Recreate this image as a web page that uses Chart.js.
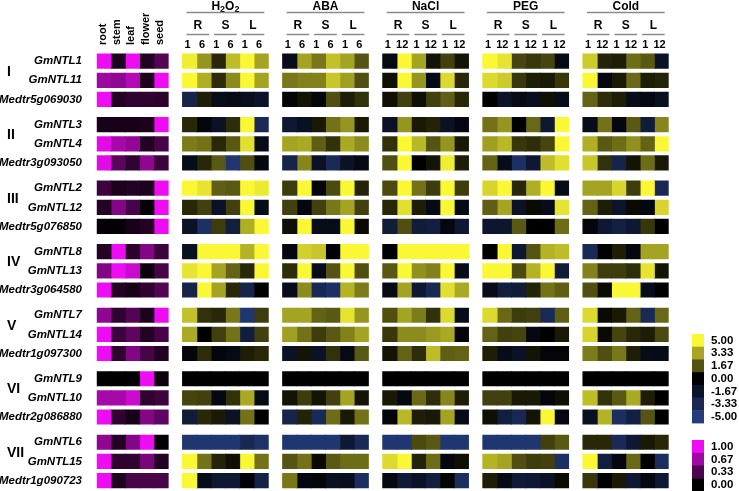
<!DOCTYPE html>
<html>
<head>
<meta charset="utf-8">
<script src="https://cdn.jsdelivr.net/npm/chart.js@4/dist/chart.umd.min.js"></script>
<style>
  html, body { margin: 0; padding: 0; background: #fff; }
</style>
</head>
<body>
<canvas id="heatChart" width="739" height="491"></canvas>
<script>
// genes, grouped three per clade
const genes = [
  "GmNTL1", "GmNTL11", "Medtr5g069030",
  "GmNTL3", "GmNTL4", "Medtr3g093050",
  "GmNTL2", "GmNTL12", "Medtr5g076850",
  "GmNTL8", "GmNTL13", "Medtr3g064580",
  "GmNTL7", "GmNTL14", "Medtr1g097300",
  "GmNTL9", "GmNTL10", "Medtr2g086880",
  "GmNTL6", "GmNTL15", "Medtr1g090723"
];
const groups = ["I", "II", "III", "IV", "V", "VI", "VII"];

const tissueLabels = ["root", "stem", "leaf", "flower", "seed"];
const tissue = [
  [1.00, 0.12, 1.00, 0.15, 0.35],
  [0.65, 0.60, 0.75, 0.12, 1.00],
  [1.00, 0.15, 0.20, 0.20, 0.18],
  [0.10, 0.10, 0.10, 0.12, 1.00],
  [0.95, 0.70, 0.62, 0.15, 0.30],
  [0.95, 0.38, 0.20, 0.60, 0.25],
  [0.25, 0.12, 0.15, 0.12, 1.00],
  [0.15, 0.55, 0.30, 0.02, 1.00],
  [0.02, 0.02, 0.10, 0.15, 1.00],
  [0.15, 1.00, 0.18, 0.55, 0.25],
  [0.55, 1.00, 0.85, 0.05, 0.30],
  [1.00, 0.15, 0.10, 0.20, 0.35],
  [0.60, 0.20, 0.35, 0.12, 1.00],
  [1.00, 0.25, 0.40, 0.15, 0.30],
  [1.00, 0.20, 0.55, 0.30, 0.15],
  [0.00, 0.00, 0.00, 1.00, 0.05],
  [0.70, 0.70, 0.85, 0.20, 0.25],
  [1.00, 0.20, 0.10, 0.55, 0.40],
  [0.60, 0.15, 0.55, 1.00, 0.02],
  [1.00, 0.20, 0.20, 0.50, 0.15],
  [1.00, 0.12, 0.30, 0.30, 0.30]
];

const organs = ["R", "S", "L"];
const treatmentNames = ["H₂O₂", "ABA", "NaCl", "PEG", "Cold"];
const timeLabels = [["1", "6"], ["1", "6"], ["1", "12"], ["1", "12"], ["1", "12"]];

// columns: R-1, R-late, S-1, S-late, L-1, L-late
const h2o2 = [
  [4.8, 3.0, 0.8, 3.8, 5, 3.3],
  [5, 3.5, 0.9, 2.8, 5, 3.3],
  [-3, 0.6, -1, -0.8, -1.2, -1.6],
  [0.8, -0.5, -1.5, 0.9, 5, -3.5],
  [2.5, 2.3, 0.8, 1.8, 4.5, -1],
  [-1, 0.8, 1.8, -4.5, 1.6, -0.6],
  [5, 4.6, 1.9, 1.8, 5, 4.7],
  [0.8, 1.3, -1.5, 1.3, 5, -1],
  [-1.5, -4, 1.2, -2.5, 3.5, 5],
  [-1.3, 5, 5, 5, 3.6, 5],
  [4.6, 5, 3.3, 2, 0.8, 5],
  [-3, 5, 3.3, 0.8, -3, 0],
  [3.9, 1, 0.8, 2.4, -4.5, 1.2],
  [3.4, 0, 1.3, 2.3, -2.5, 1.3],
  [-0.5, 0.9, -0.5, -0.8, 0.6, 0.8],
  [0, 0, 0, 0, 0, 0],
  [1.4, 1.3, -0.7, 1, 3.4, -0.8],
  [-2.3, 0.8, 0.5, -1.5, 2.3, 0],
  [-4.5, -4.5, -4.5, -4.5, -3.3, -4.2],
  [5, 2.3, 0.7, 0.3, 5, 2.3],
  [5, -1, -2, -2, -0.2, -2.8]
];
const aba = [
  [-1, 3.3, 2.4, 3.9, 3.3, 1.7],
  [2.4, 2.6, 2.6, 4, 3.2, 1.6],
  [-0.3, 0.4, -0.4, 1.6, 0.6, 1],
  [-2, -1.3, 0.5, 2.3, 3, 0.5],
  [3.3, 3.4, 1.9, 1, 3.4, 2.8],
  [-3, 2.7, -1.5, -3.5, -1.5, -0.8],
  [1.2, 5, -0.5, 1.5, 5, 0.7],
  [1.3, -0.6, 1.3, 2.4, 3.3, 1.3],
  [0.3, 5, -1, -1, 5, 0.2],
  [-0.6, 4.2, 4, -0.2, 5, 5],
  [0.9, 5, -1, 1.7, 5, 1.6],
  [-1, 2.8, -3.3, -4, 3.6, 2.5],
  [3.3, 3.3, 2, 1.8, 4.6, 3],
  [3.2, 2.3, 1.2, 1.8, 2.6, 3.3],
  [-1.5, 0.4, -1.5, 1, -0.8, 1.8],
  [0, 0, 0, 0, 0, 0],
  [0.4, 1.2, 0.4, 1.3, 3.3, 0.4],
  [-3, 0.7, -3.5, 2.2, 0.5, 2.3],
  [-4.5, -4.5, -4.5, -4.5, -2, -3.5],
  [1.7, 2.3, 0.2, 1.8, 2.2, 2.2],
  [2.4, -0.6, -0.5, -1.3, -1.2, -3.8]
];
const nacl = [
  [-0.8, 5, 3.3, 0.4, 1.3, 0.4],
  [0.3, 5, 3, -0.8, 4.4, 0.8],
  [0.3, 1.3, 0.3, 1.3, 1.9, 0.8],
  [-1.5, 3, 0.5, 0.7, -1.5, -0.6],
  [1, 5, 3.7, 1.7, 3, 0.5],
  [1.6, 5, 0, 0.4, 4.8, 0.6],
  [1.5, 5, 2.3, 1.2, 5, 1.2],
  [0.8, 4.5, 0.6, -0.8, 5, -0.8],
  [-2.3, 1.6, -2.3, -2.6, -0.6, -2],
  [0, 5, 5, 5, 5, 5],
  [1.8, 5, 2.9, 2.6, 5, -1],
  [-0.8, 3.3, -2, -3.3, 4.5, 3.4],
  [1.6, 3.3, 2.5, 1, 4.4, -1],
  [1.1, 2.8, 2.8, 3.1, 3.4, -0.5],
  [0.4, 2, 0.9, 3.8, 1.9, 2],
  [0, 0, 0, 0, 0, 0],
  [0.5, -0.7, 2.1, 0.9, 2.7, 0.6],
  [-0.4, 3.7, 0.6, 0.5, 3.3, -0.8],
  [-4.5, -4.5, 1.5, 1.8, -4.5, -4.5],
  [4.4, 5, 0.7, 2.2, -0.6, 0.3],
  [-0.7, -2.2, -1.5, -2.5, 0.1, -3.8]
];
const peg = [
  [5, 4.6, 1.4, 1.1, 1.4, -0.8],
  [4.4, 4.1, 1.1, 0.6, 0.5, 1.1],
  [0, -1.5, -0.8, -1.2, 0.3, -1],
  [2.3, 3, 0, 2.1, -2, 5],
  [3.2, 3.7, 1.1, 0.9, 1.4, 5],
  [2, -1, -4, -2, 3.8, 4.5],
  [4.3, 5, 0.8, 3.5, 5, -0.8],
  [1.9, 3.3, -1.5, 0.2, -1, 4.6],
  [-1.8, -1.8, 1.8, 0, 0, 2.2],
  [0, 5, -2, 1.7, 3.6, 3.8],
  [5, 5, 1.5, 3.6, 5, -2.3],
  [-1, -2.5, -2.3, 0.7, 2.3, 1.9],
  [4.4, 2.1, 1.2, 1.3, -3.5, 1.9],
  [2, 1.3, 1.4, -0.7, -0.1, 0.5],
  [0.6, -1, -1.5, 0.4, -0.4, 0.1],
  [0, 0, 0, 0, 0, 0],
  [1.3, 1.3, 0.5, 0.5, -0.5, 0.3],
  [0.3, -2.5, -3.3, 0.4, 5, -0.7],
  [-4.5, -4.5, -4.5, -4.5, 1.3, 1.8],
  [3.6, 3.3, 1.6, 1.2, 1.3, -4],
  [0.6, -0.8, -2.2, -2, -1.5, 0.2]
];
const cold = [
  [4.1, 0.7, 0.6, 2.2, 1.8, -1.5],
  [5, -0.7, 0.5, 2.1, 0.6, 0.7],
  [2, 0.9, 0.6, -1, -0.7, -1.3],
  [-1, 2.3, -0.6, 1.8, -2.3, 2.7],
  [3.5, 1.8, 2.2, 2.9, 2, 5],
  [4, 1, -3, 0.4, 2.2, 0.5],
  [3.3, 3.3, 4.3, 1.2, 5, -3.3],
  [2, 0.6, -1.7, 0.2, -0.6, 4.3],
  [-0.5, -2, -2.7, -2, 1.1, 0],
  [-3.5, 0, 0.6, -0.6, 3.3, 3.3],
  [2.6, 1.2, 1.2, 0.9, 4.6, 0.4],
  [1.6, 0.2, 5, 5, -1, 0],
  [4.4, 0.2, 0.5, 2, -3.5, 2.1],
  [4.3, 0.2, 1.4, 0.8, 0.6, 1.5],
  [2.5, 1.6, 2.4, 0.6, -1, -0.9],
  [0, 0, 0, 0, 0, 0],
  [3.8, 1, 1.8, 3.4, 0.6, 0],
  [-1.3, 3.6, -3.8, -2.7, 1.7, 0],
  [0.8, 0.8, -3.5, -2, 0.5, 0.8],
  [5, -2.5, -0.6, 2.1, 0, -3.8],
  [1.1, 0, 0.5, -2, -0.7, -2]
];
const treatments = [h2o2, aba, nacl, peg, cold];

const stressTicks = ["5.00", "3.33", "1.67", "0.00", "-1.67", "-3.33", "-5.00"];
const tissueTicks = ["1.00", "0.67", "0.33", "0.00"];

// colour scales
function stressColor(v) {
  const t = Math.max(-1, Math.min(1, v / 5));
  const c = t >= 0 ? [250, 248, 52] : [36, 60, 124];
  const a = Math.abs(t);
  return "rgb(" + Math.round(c[0] * a) + "," + Math.round(c[1] * a) + "," + Math.round(c[2] * a) + ")";
}
function tissueColor(v) {
  const a = Math.max(0, Math.min(1, v));
  return "rgb(" + Math.round(238 * a) + "," + Math.round(12 * a) + "," + Math.round(242 * a) + ")";
}

// row positions: extra space between clades
const GROUP_GAP = 0.32;
const rowPos = genes.map((g, i) => i + Math.floor(i / 3) * GROUP_GAP);
const lastRow = rowPos[rowPos.length - 1];

const FONT = '"Liberation Sans", Arial, sans-serif';
const colStart = b => 6 + 7 * b;

const datasets = [];
tissueLabels.forEach((lab, c) => {
  datasets.push({
    label: lab,
    data: genes.map((g, i) => ({ y: rowPos[i], x: [c, c + 1] })),
    backgroundColor: tissue.map(r => tissueColor(r[c]))
  });
});
treatments.forEach((vals, b) => {
  for (let k = 0; k < 6; k++) {
    const c = colStart(b) + k;
    datasets.push({
      label: treatmentNames[b] + " " + organs[Math.floor(k / 2)] + timeLabels[b][k % 2],
      data: genes.map((g, i) => ({ y: rowPos[i], x: [c, c + 1] })),
      backgroundColor: vals.map(r => stressColor(r[k]))
    });
  }
});

function drawRich(ctx, text, cx, cy, size) {
  // handles unicode subscript digits
  const parts = Array.from(text).map(ch => {
    const code = ch.charCodeAt(0);
    if (code >= 0x2080 && code <= 0x2089) return { t: String(code - 0x2080), sub: true };
    return { t: ch, sub: false };
  });
  const subSize = Math.round(size * 0.72);
  let w = 0;
  parts.forEach(p => {
    ctx.font = "bold " + (p.sub ? subSize : size) + "px " + FONT;
    p.w = ctx.measureText(p.t).width;
    w += p.w;
  });
  let x = cx - w / 2;
  ctx.textAlign = "left";
  ctx.textBaseline = "middle";
  parts.forEach(p => {
    ctx.font = "bold " + (p.sub ? subSize : size) + "px " + FONT;
    ctx.fillText(p.t, x, p.sub ? cy + size * 0.22 : cy);
    x += p.w;
  });
}

const decorPlugin = {
  id: "decor",
  afterDraw(chart) {
    const ctx = chart.ctx;
    const xs = chart.scales.x;
    const ys = chart.scales.y;
    const px = v => xs.getPixelForValue(v);
    ctx.save();
    ctx.fillStyle = "#000";

    // tissue column labels (vertical)
    ctx.font = "bold 11px " + FONT;
    tissueLabels.forEach((lab, c) => {
      ctx.save();
      ctx.translate(px(c + 0.5) - 1, 45);
      ctx.rotate(-Math.PI / 2);
      ctx.textAlign = "left";
      ctx.textBaseline = "middle";
      ctx.fillText(lab, 0, 0);
      ctx.restore();
    });

    // treatment headers
    ctx.strokeStyle = "#8a8a8a";
    ctx.lineWidth = 1.5;
    treatmentNames.forEach((name, b) => {
      const x0 = px(colStart(b));
      const x1 = px(colStart(b) + 6);
      drawRich(ctx, name, (x0 + x1) / 2, 6.5, 12);
      ctx.beginPath();
      ctx.moveTo(x0 + 4, 12.5);
      ctx.lineTo(x1 - 4, 12.5);
      ctx.stroke();
      const segW = (x1 - x0 - 8 - 10) / 3;
      organs.forEach((o, j) => {
        const a = x0 + 4 + j * (segW + 5);
        ctx.font = "bold 12px " + FONT;
        ctx.textAlign = "center";
        ctx.textBaseline = "middle";
        ctx.fillText(o, a + segW / 2, 26);
        ctx.beginPath();
        ctx.moveTo(a, 34.5);
        ctx.lineTo(a + segW, 34.5);
        ctx.stroke();
        ctx.font = "bold 11px " + FONT;
        timeLabels[b].forEach((t, m) => {
          const c = colStart(b) + 2 * j + m;
          ctx.fillText(t, px(c + 0.5) - 2, 44.5);
        });
      });
    });

    // clade numerals
    ctx.font = "bold 14px " + FONT;
    ctx.textAlign = "left";
    ctx.textBaseline = "middle";
    groups.forEach((g, k) => {
      const y = (ys.getPixelForValue(rowPos[3 * k]) + ys.getPixelForValue(rowPos[3 * k + 1])) / 2;
      ctx.fillText(g, 7, y + 1);
    });

    // colour keys
    const kx = 692, kw = 12;
    ctx.font = "bold 11.5px " + FONT;
    stressTicks.forEach((t, i) => {
      const y = 334 + i * 12.7;
      ctx.fillStyle = stressColor(parseFloat(t));
      ctx.fillRect(kx, y, kw, 13.2);
      ctx.fillStyle = "#000";
      ctx.fillText(t, 711, y + 6.6);
    });
    tissueTicks.forEach((t, i) => {
      const y = 440 + i * 12.75;
      ctx.fillStyle = tissueColor(parseFloat(t));
      ctx.fillRect(kx, y, kw, 13.2);
      ctx.fillStyle = "#000";
      ctx.fillText(t, 711, y + 6.6);
    });
    ctx.restore();
  }
};

new Chart(document.getElementById("heatChart"), {
  type: "bar",
  data: { datasets: datasets },
  options: {
    responsive: false,
    animation: false,
    indexAxis: "y",
    datasets: {
      bar: {
        grouped: false,
        barThickness: 14.3,
        borderWidth: 0,
        inflateAmount: 0.45
      }
    },
    layout: { padding: { top: 51.6, right: 70.3, bottom: 0.9, left: 0 } },
    plugins: {
      legend: { display: false },
      tooltip: { enabled: false }
    },
    scales: {
      x: { type: "linear", min: 0, max: 40, display: false },
      y: {
        type: "linear",
        reverse: true,
        offset: false,
        min: -0.5,
        max: lastRow + 0.5,
        afterBuildTicks: axis => {
          axis.ticks = rowPos.map(v => ({ value: v }));
        },
        afterFit: axis => {
          axis.width = 96.7;
          axis.paddingTop = 0;
          axis.paddingBottom = 0;
        },
        grid: { display: false, drawTicks: false },
        border: { display: false },
        ticks: {
          autoSkip: false,
          padding: 14.7,
          color: "#000",
          font: { family: FONT, size: 11.5, weight: "bold", style: "italic" },
          callback: (value, index) => genes[index]
        }
      }
    }
  },
  plugins: [decorPlugin]
});
</script>
</body>
</html>
